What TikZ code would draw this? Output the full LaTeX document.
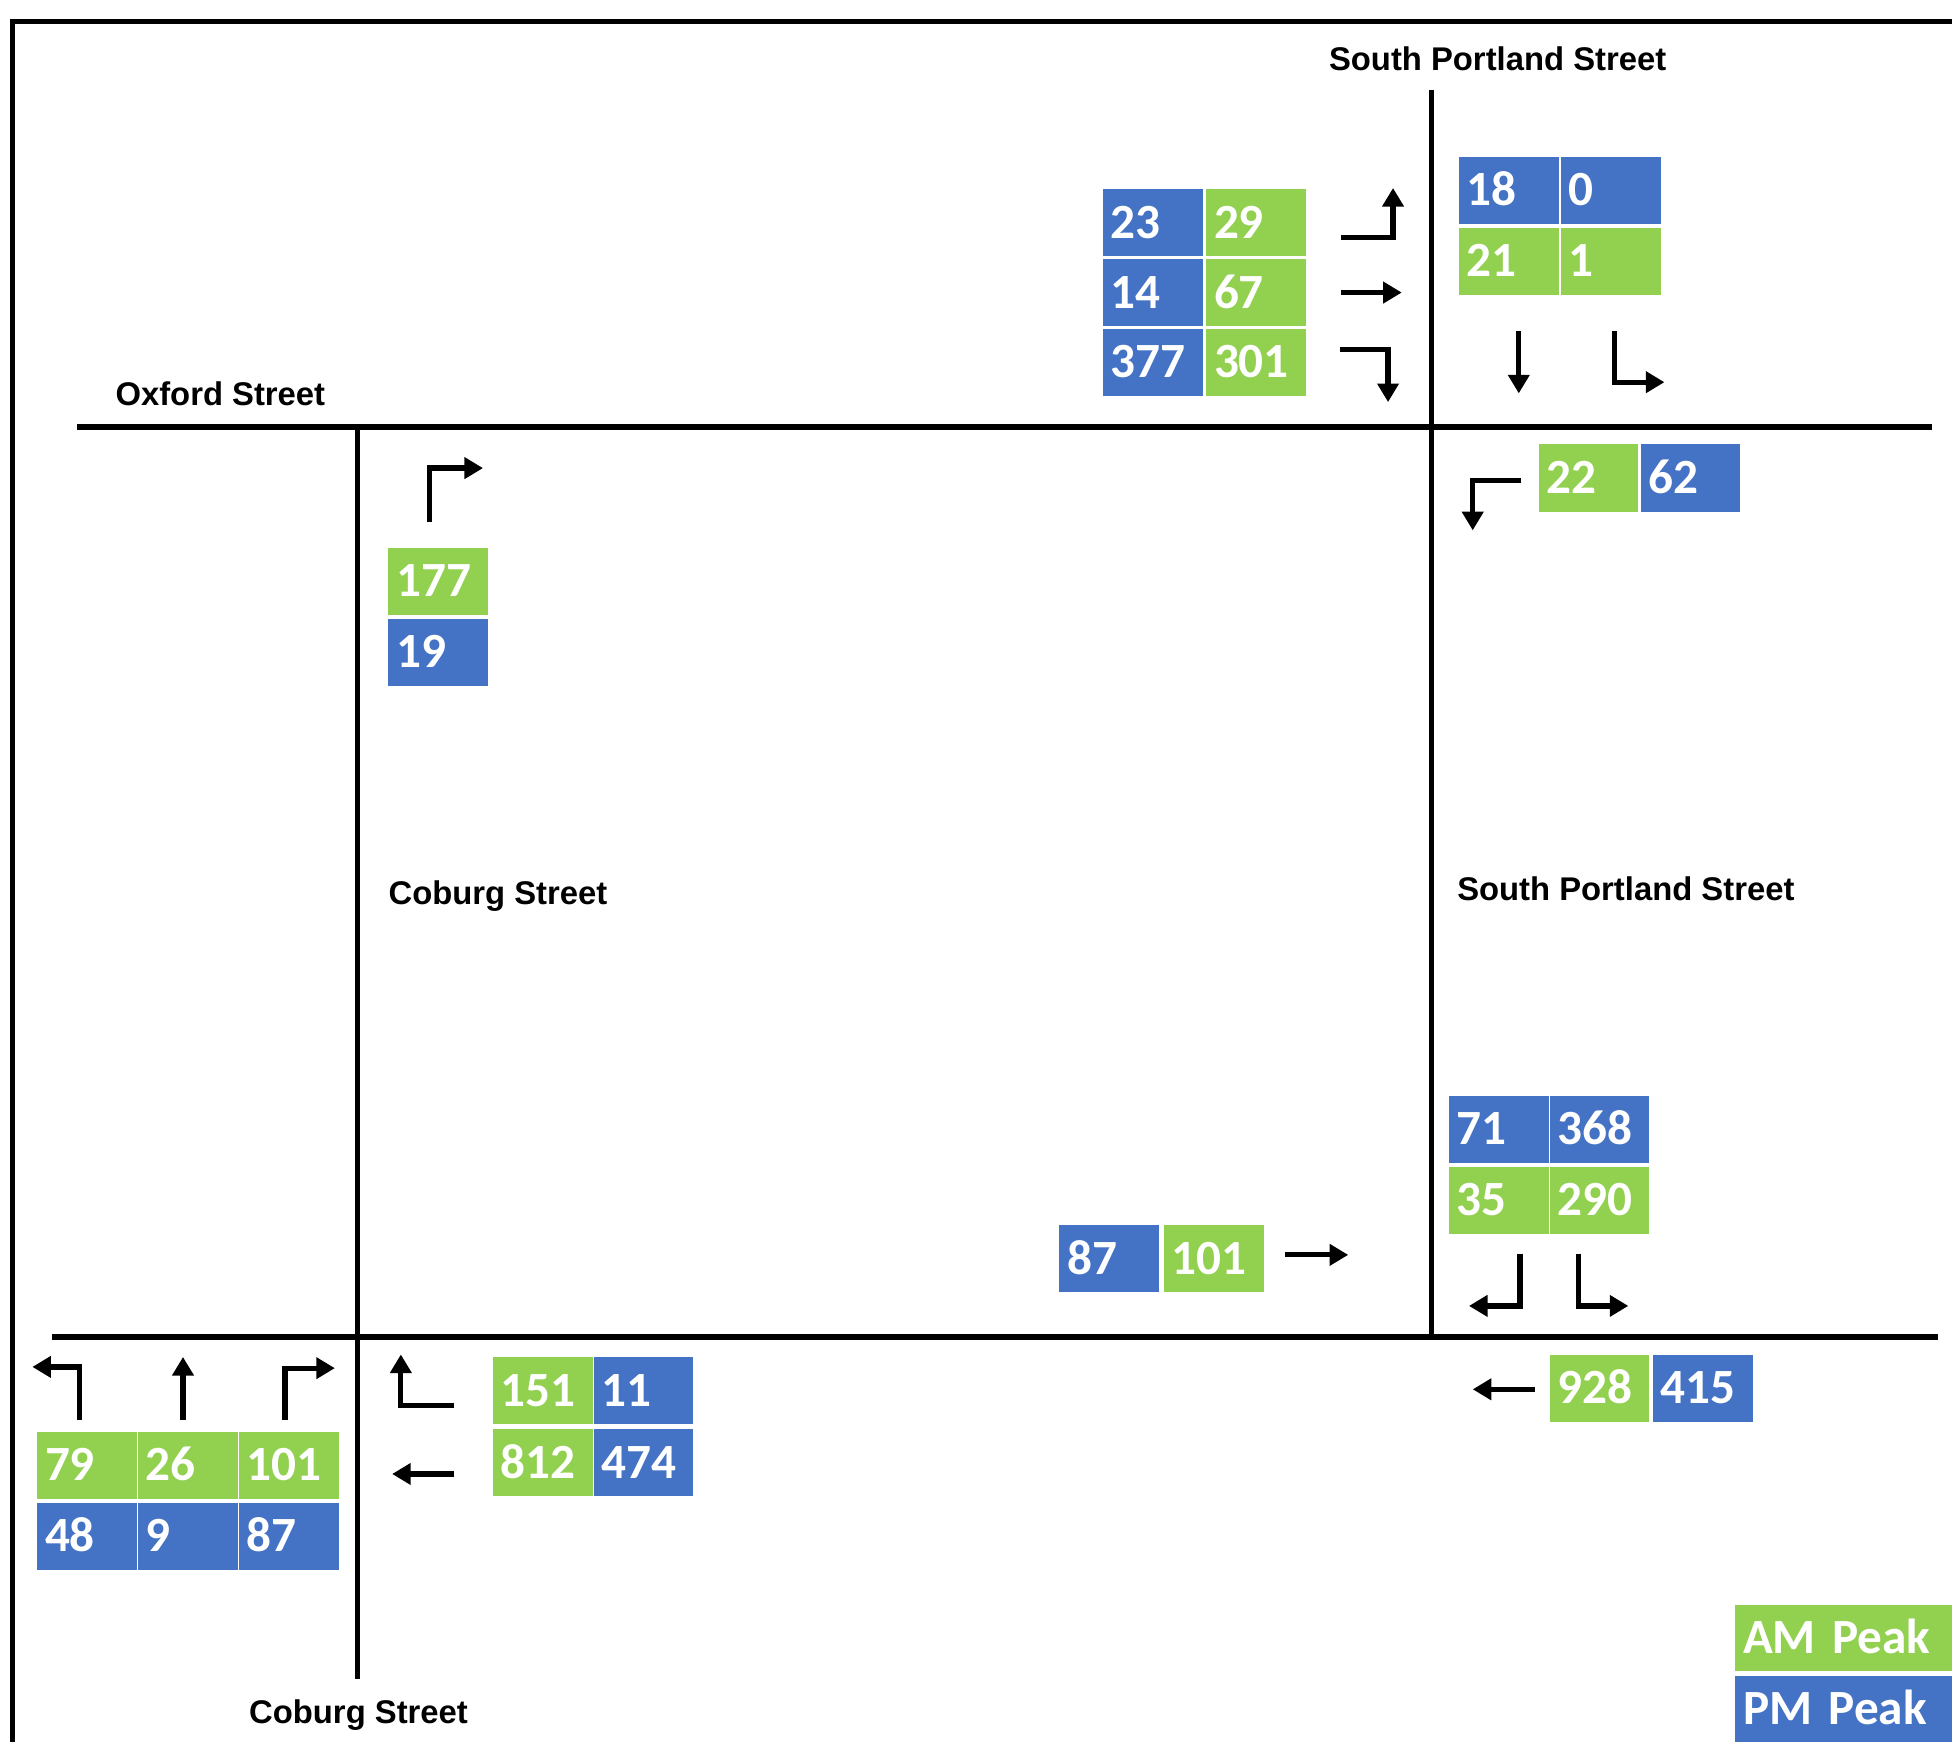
\documentclass[tikz,border=0pt]{standalone}
\usepackage{fontspec}
\setmainfont{Carlito}
\newfontfamily\streetfont{Liberation Sans}
\usepackage{tikz}
\usetikzlibrary{arrows.meta}

\definecolor{pmblue}{HTML}{4472C4}
\definecolor{amgreen}{HTML}{92D050}

\begin{document}
\begin{tikzpicture}[
			x=0.02cm,
			y=-0.02cm,
			>={Triangle[length=8.5pt, width=9.5pt]},
			road/.style={line width=2.4pt},
			turn/.style={->, line width=2.4pt},
			street/.style={
					font=\streetfont\bfseries\fontsize{15}{18}\selectfont,
					inner sep=0pt
				},
			cell/.style={
					draw=white,
					line width=0.6pt,
					text=white,
					font=\bfseries\fontsize{22.5}{27}\selectfont,
					minimum width=1.62cm,
					minimum height=1.1cm,
					text width=38.5pt,
					inner xsep=3.5pt,
					inner ysep=0pt,
					align=left,
					text height=14.2pt, % Height of the digits
					text depth=0pt
				},
			am/.style={cell, fill=amgreen},
			pm/.style={cell, fill=pmblue},
			legend/.style={
					cell,
					anchor=north west,
					minimum width=3.5cm,
					minimum height=1.08cm,
					text width=92pt
				}
		]
		\useasboundingbox (0, 0) rectangle (1568, 1399);

		% frame and roads
		\draw[road] (10, 1399) -- (10, 17) -- (1568, 17);
		\draw[road] (62, 343) -- (1552, 343);
		\draw[road] (42, 1074) -- (1557, 1074);
		\draw[road] (287, 343) -- (287, 1349);
		\draw[road] (1150, 72) -- (1150, 1074);

		\node[street] (lspn) at (1203, 47) {South Portland Street};
		\node[street] (lox) at (177, 316) {Oxford Street};
		\node[street] (lcob) at (400, 720) {Coburg Street};
		\node[street] (lsps) at (1306, 714) {South Portland Street};
		\node[street] (lcobs) at (288, 1378) {Coburg Street};

		% Oxford Street eastbound
		\node[pm] (ntl1) at (926, 179) {23};
		\node[am] (ntl2) at (1009, 179) {29};
		\node[pm] (ntl3) at (926, 235) {14};
		\node[am] (ntl4) at (1009, 235) {67};
		\node[pm] (ntl5) at (926, 291) {377};
		\node[am] (ntl6) at (1009, 291) {301};
		\draw[turn] (1077, 191) -| (1119, 151);
		\draw[turn] (1077, 235) -- (1126, 235);
		\draw[turn] (1076, 281) -| (1115, 323);

		% South Portland Street southbound, north end
		\node[pm] (ntr1) at (1212, 153) {18};
		\node[pm] (ntr2) at (1294, 153) {0};
		\node[am] (ntr3) at (1212, 210) {21};
		\node[am] (ntr4) at (1294, 210) {1};
		\draw[turn] (1220, 266) -- (1220, 316);
		\draw[turn] (1297, 266) |- (1337, 307);

		% Oxford Street westbound
		\node[am] (nr1) at (1276, 384) {22};
		\node[pm] (nr2) at (1358, 384) {62};
		\draw[turn] (1222, 386) -| (1183, 426);

		% Coburg Street northbound at Oxford Street
		\node[am] (nl1) at (352, 467) {177};
		\node[pm] (nl2) at (352, 524) {19};
		\draw[turn] (345, 419) |- (388, 376);

		% South Portland Street southbound, south end
		\node[pm] (nm1) at (1204, 907) {71};
		\node[pm] (nm2) at (1285, 907) {368};
		\node[am] (nm3) at (1204, 964) {35};
		\node[am] (nm4) at (1285, 964) {290};
		\draw[turn] (1221, 1007) |- (1180, 1049);
		\draw[turn] (1268, 1007) |- (1308, 1049);

		\node[pm] (ns1) at (891, 1011) {87};
		\node[am] (ns2) at (975, 1011) {101};
		\draw[turn] (1032, 1008) -- (1083, 1008);

		\node[am] (nbr1) at (1285, 1115) {928};
		\node[pm] (nbr2) at (1368, 1115) {415};
		\draw[turn] (1233, 1116) -- (1183, 1116);

		% Coburg Street south
		\node[am] (nbl1) at (70, 1177) {79};
		\node[am] (nbl2) at (151, 1177) {26};
		\node[am] (nbl3) at (232, 1177) {101};
		\node[pm] (nbl4) at (70, 1234) {48};
		\node[pm] (nbl5) at (151, 1234) {9};
		\node[pm] (nbl6) at (232, 1234) {87};
		\draw[turn] (64, 1141) |- (26, 1098);
		\draw[turn] (147, 1141) -- (147, 1090);
		\draw[turn] (229, 1141) |- (269, 1099);

		\node[am] (nbc1) at (436, 1117) {151};
		\node[pm] (nbc2) at (517, 1117) {11};
		\node[am] (nbc3) at (436, 1175) {812};
		\node[pm] (nbc4) at (517, 1175) {474};
		\draw[turn] (365, 1129) -| (322, 1088);
		\draw[turn] (365, 1184) -- (315, 1184);

		% legend
		\node[legend, fill=amgreen] (nam) at (1393, 1288) {AM Peak};
		\node[legend, fill=pmblue] (npm) at (1393, 1345) {PM Peak};

	\end{tikzpicture}
\end{document}
